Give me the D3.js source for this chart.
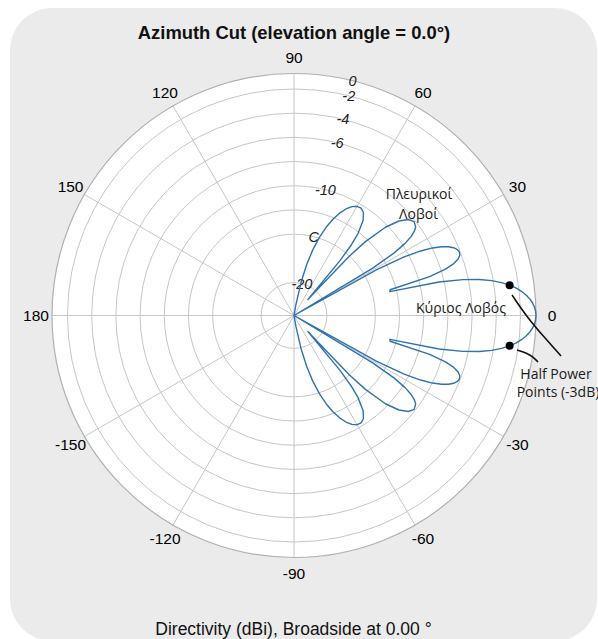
<!DOCTYPE html>
<html><head><meta charset="utf-8">
<script src="https://cdn.jsdelivr.net/npm/d3@7"></script>
<style>html,body{margin:0;padding:0;background:#fff}svg{display:block}</style>
</head><body>
<svg id="chart" width="598" height="639"></svg>
<script>
// ---- data ----
const azimuthDeg = [-90,-88,-86,-84,-82,-80,-78,-76,-74,-72,-70,-68,-66,-64,-62,-60,-58,-56,-54,-52,-51,-50,-49,-48,-47,-46,-44,-42,-40,-38,-36,-35,-34,-33,-32,-31,-30,-29,-28,-27,-26,-25,-24,-23,-22,-21,-20,-19,-18,-17,-16,-15,-14,-13,-12,-11,-10,-9,-8,-7,-6,-5,-4,-3,-2,-1,
 0,1,2,3,4,5,6,7,8,9,10,11,12,13,14,15,16,17,18,19,20,21,22,23,24,25,26,27,28,29,30,31,32,33,34,35,36,38,40,42,44,46,47,48,49,50,51,52,54,56,58,60,62,64,66,68,70,72,74,76,78,80,82,84,86,88,90];
const directivityDbi = [-50,-50,-50,-50,-45.3,-39.5,-34.84,-30.94,-27.64,-24.82,-22.4,-20.35,-18.66,-17.31,-16.33,-15.74,-15.64,-16.13,-17.49,-20.33,-22.85,-27.07,-37.42,-33.93,-25.07,-20.65,-15.55,-12.62,-10.95,-10.3,-10.72,-11.44,-12.6,-14.43,-17.38,-22.91,-50,-22.24,-16.03,-12.43,-9.96,-8.17,-6.87,-5.96,-5.41,-5.2,-5.35,-5.94,-7.08,-9.07,-12.65,-21.23,-21.4,-11.05,-6.12,-2.81,-0.34,1.61,3.19,4.48,5.53,6.38,7.05,7.56,7.92,8.13,
 8.2,8.13,7.92,7.56,7.05,6.38,5.53,4.48,3.19,1.61,-0.34,-2.81,-6.12,-11.05,-21.4,-21.23,-12.65,-9.07,-7.08,-5.94,-5.35,-5.2,-5.41,-5.96,-6.87,-8.17,-9.96,-12.43,-16.03,-22.24,-50,-22.91,-17.38,-14.43,-12.6,-11.44,-10.72,-10.3,-10.95,-12.62,-15.55,-20.65,-25.07,-33.93,-37.42,-27.07,-22.85,-20.33,-17.49,-16.13,-15.64,-15.74,-16.33,-17.31,-18.66,-20.35,-22.4,-24.82,-27.64,-30.94,-34.84,-39.5,-45.3,-50,-50,-50,-50];
const magnitudeLimits = [-41.8, 8.2];
const ringValues = [-35,-25,-20,-15,-10,-5,0,5];
const angleTicks = [0,30,60,90,120,150,180,-150,-120,-90,-60,-30];
const angleTickLabels = ["0","30","60","90","120","150","180","-150","-120","-90","-60","-30"];
const radialLabelValues = [8.2,5,0,-5,-15,-25,-35];
const radialLabelTexts = ["0","-2","-4","-6","-10","C","-20"];
const halfPowerAz = [8,-8];
const titleText = "Azimuth Cut (elevation angle = 0.0°)";
const bottomText = "Directivity (dBi), Broadside at 0.00 °";

// ---- layout ----
const W = 598, H = 639, cx = 294, cy = 315.5, R = 242;
const svg = d3.select("#chart");

svg.append("rect").attr("x",10).attr("y",8).attr("width",587).attr("height",633)
  .attr("rx",42).attr("fill","#ebebeb");

const rScale = d3.scaleLinear().domain(magnitudeLimits).range([0, R]).clamp(true);
const aScale = d3.scaleLinear().domain([0, 90]).range([Math.PI/2, 0]); // degrees -> d3 radial angle
const pt = (az, r) => [cx + r*Math.sin(aScale(az)), cy - r*Math.cos(aScale(az))];

const g = svg.append("g");
g.append("circle").attr("cx",cx).attr("cy",cy).attr("r",R).attr("fill","#fff");

// rings
g.selectAll(".ring").data(ringValues).join("circle")
  .attr("cx",cx).attr("cy",cy).attr("r",d=>rScale(d))
  .attr("fill","none").attr("stroke","#c6c6c6").attr("stroke-width",1);
// spokes
g.selectAll(".spoke").data(angleTicks).join("line")
  .attr("x1",cx).attr("y1",cy)
  .attr("x2",d=>pt(d,R)[0]).attr("y2",d=>pt(d,R)[1])
  .attr("stroke","#c6c6c6").attr("stroke-width",1);
// outer circle
g.append("circle").attr("cx",cx).attr("cy",cy).attr("r",R)
  .attr("fill","none").attr("stroke","#b0b0b0").attr("stroke-width",1.2);

// angle labels
g.selectAll(".alab").data(angleTicks).join("text")
  .attr("x",d=>pt(d,258)[0]).attr("y",d=>pt(d,258)[1])
  .attr("text-anchor","middle").attr("dominant-baseline","central")
  .attr("font-family","Liberation Sans, Arial, sans-serif").attr("font-size",15.5)
  .attr("fill","#000")
  .text((d,i)=>angleTickLabels[i]);

// radial labels
g.selectAll(".rlab").data(radialLabelValues).join("text")
  .attr("x",d=>pt(76,rScale(d))[0]).attr("y",d=>pt(76,rScale(d))[1])
  .attr("text-anchor","middle").attr("dominant-baseline","central")
  .attr("font-family","Liberation Sans, Arial, sans-serif").attr("font-size",14.5)
  .attr("font-style","italic").attr("fill","#222")
  .text((d,i)=>radialLabelTexts[i]);

// pattern
const pattern = azimuthDeg.map((a,i)=>({az:a, v:directivityDbi[i]}));
const line = d3.lineRadial().angle(d=>aScale(d.az)).radius(d=>rScale(d.v)).curve(d3.curveLinearClosed);
g.append("path").attr("transform",`translate(${cx},${cy})`)
  .attr("d", line(pattern)).attr("fill","none")
  .attr("stroke","#2f72ad").attr("stroke-width",1.4).attr("stroke-linejoin","round");

// half power points
g.selectAll(".hp").data(halfPowerAz).join("circle")
  .attr("cx",d=>pt(d,rScale(directivityDbi[azimuthDeg.indexOf(d)]))[0])
  .attr("cy",d=>pt(d,rScale(directivityDbi[azimuthDeg.indexOf(d)]))[1])
  .attr("r",4).attr("fill","#000");

// annotation pointer lines
const annLine = d3.line().curve(d3.curveBasis);
svg.append("path").attr("d", annLine([[512,295],[527,317],[544,337],[561,356]]))
  .attr("fill","none").attr("stroke","#111").attr("stroke-width",1.6);
svg.append("path").attr("d", annLine([[517,350],[527,353],[533,357],[538,362]]))
  .attr("fill","none").attr("stroke","#111").attr("stroke-width",1.6);

// annotation texts
const ann = [
  {t:"Πλευρικοί", x:419, y:193},
  {t:"Λοβοί", x:418.5, y:213},
  {t:"Κύριος Λοβός", x:461, y:307},
  {t:"Half Power", x:556, y:373},
  {t:"Points (-3dB)", x:558, y:391}
];
svg.selectAll(".ann").data(ann).join("text")
  .attr("x",d=>d.x).attr("y",d=>d.y)
  .attr("text-anchor","middle").attr("dominant-baseline","central")
  .attr("font-family","Open Sans, Noto Sans, sans-serif").attr("font-size",14)
  .attr("fill","#1a1a1a").text(d=>d.t);

// title and bottom label
svg.append("text").attr("x",294).attr("y",39).attr("text-anchor","middle")
  .attr("font-family","Liberation Sans, Arial, sans-serif").attr("font-weight","bold")
  .attr("font-size",18.4).attr("fill","#111").text(titleText);
svg.append("text").attr("x",293.5).attr("y",635).attr("text-anchor","middle")
  .attr("font-family","Liberation Sans, Arial, sans-serif")
  .attr("font-size",17.5).attr("fill","#111").text(bottomText);
</script>
</body></html>
